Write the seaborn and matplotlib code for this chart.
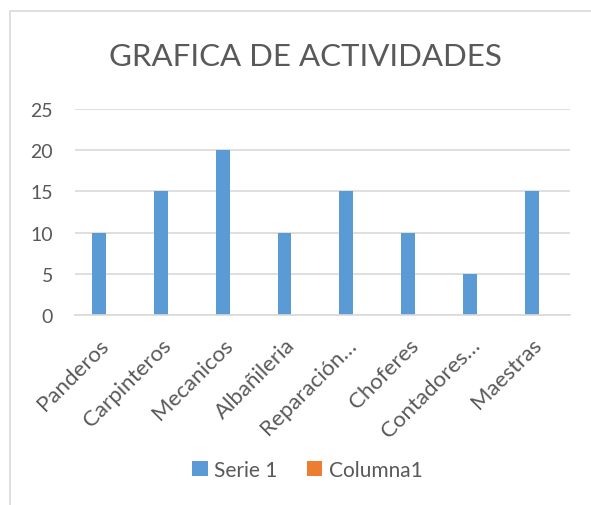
import seaborn as sns
import pandas as pd
import numpy as np
import matplotlib.pyplot as plt
import matplotlib.transforms as mtransforms
from matplotlib.patches import Rectangle

# datos
categorias = ['Panderos', 'Carpinteros', 'Mecanicos', 'Albañileria',
              'Reparación…', 'Choferes', 'Contadores…', 'Maestras']
serie1 = [10, 15, 20, 10, 15, 10, 5, 15]
columna1 = [np.nan] * 8  # serie vacía
series = ['Serie 1', 'Columna1']
colores = ['#5B9BD5', '#ED7D31']

df = pd.DataFrame({
    'categoria': categorias * 2,
    'valor': serie1 + columna1,
    'serie': [series[0]] * 8 + [series[1]] * 8,
})

sns.set_theme(style='white')
plt.rcParams['font.family'] = ['Lato', 'DejaVu Sans']
gris = '#595959'

fig = plt.figure(figsize=(5.91, 5.06), dpi=100)
ax = fig.add_axes([0.127, 0.3755, 0.837, 0.4075])

sns.barplot(data=df, x='categoria', y='valor', hue='serie', hue_order=series,
            palette=colores, width=0.45, saturation=1, linewidth=0,
            order=categorias, ax=ax)

ax.set_ylim(0, 25)
ax.set_yticks(range(0, 26, 5))
ax.set_xlim(-0.5, len(categorias) - 0.5)
ax.yaxis.grid(True, color='#D9D9D9', linewidth=1.2)
ax.set_axisbelow(True)
for s in ['top', 'right', 'left']:
    ax.spines[s].set_visible(False)
ax.spines['bottom'].set_color('#D9D9D9')
ax.spines['bottom'].set_linewidth(1.2)
ax.set_xlabel('')
ax.set_ylabel('')
ax.tick_params(axis='both', length=0, colors=gris)
ax.tick_params(axis='y', pad=16, labelsize=14)
ax.tick_params(axis='x', pad=14, labelsize=16)
ax.set_xticks(range(len(categorias)))
ax.set_xticklabels(categorias, rotation=45, ha='right', rotation_mode='anchor')
# desplazar un poco las etiquetas a la izquierda
desplaza = mtransforms.ScaledTranslation(-7 / 100, 0, fig.dpi_scale_trans)
for lbl in ax.get_xticklabels():
    lbl.set_transform(lbl.get_transform() + desplaza)

fig.text(0.516, 0.887, 'GRAFICA DE ACTIVIDADES', ha='center', va='center',
         fontsize=22.5, color=gris)

leg = ax.legend(loc='center', ncol=2, frameon=False, fontsize=15,
                handlelength=0.75, handleheight=0.75,
                columnspacing=1.4, handletextpad=0.3)
for t in leg.get_texts():
    t.set_color(gris)
leg.set_bbox_to_anchor((0.52, 0.07), transform=fig.transFigure)

# borde del gráfico (recortado a la derecha y abajo)
fig.patches.append(Rectangle((10 / 591, -0.1), 1.2, 1 - 12 / 506 + 0.1,
                             transform=fig.transFigure, fill=False,
                             edgecolor='#D9D9D9', linewidth=1.2))

plt.savefig('out.png', dpi=100)
